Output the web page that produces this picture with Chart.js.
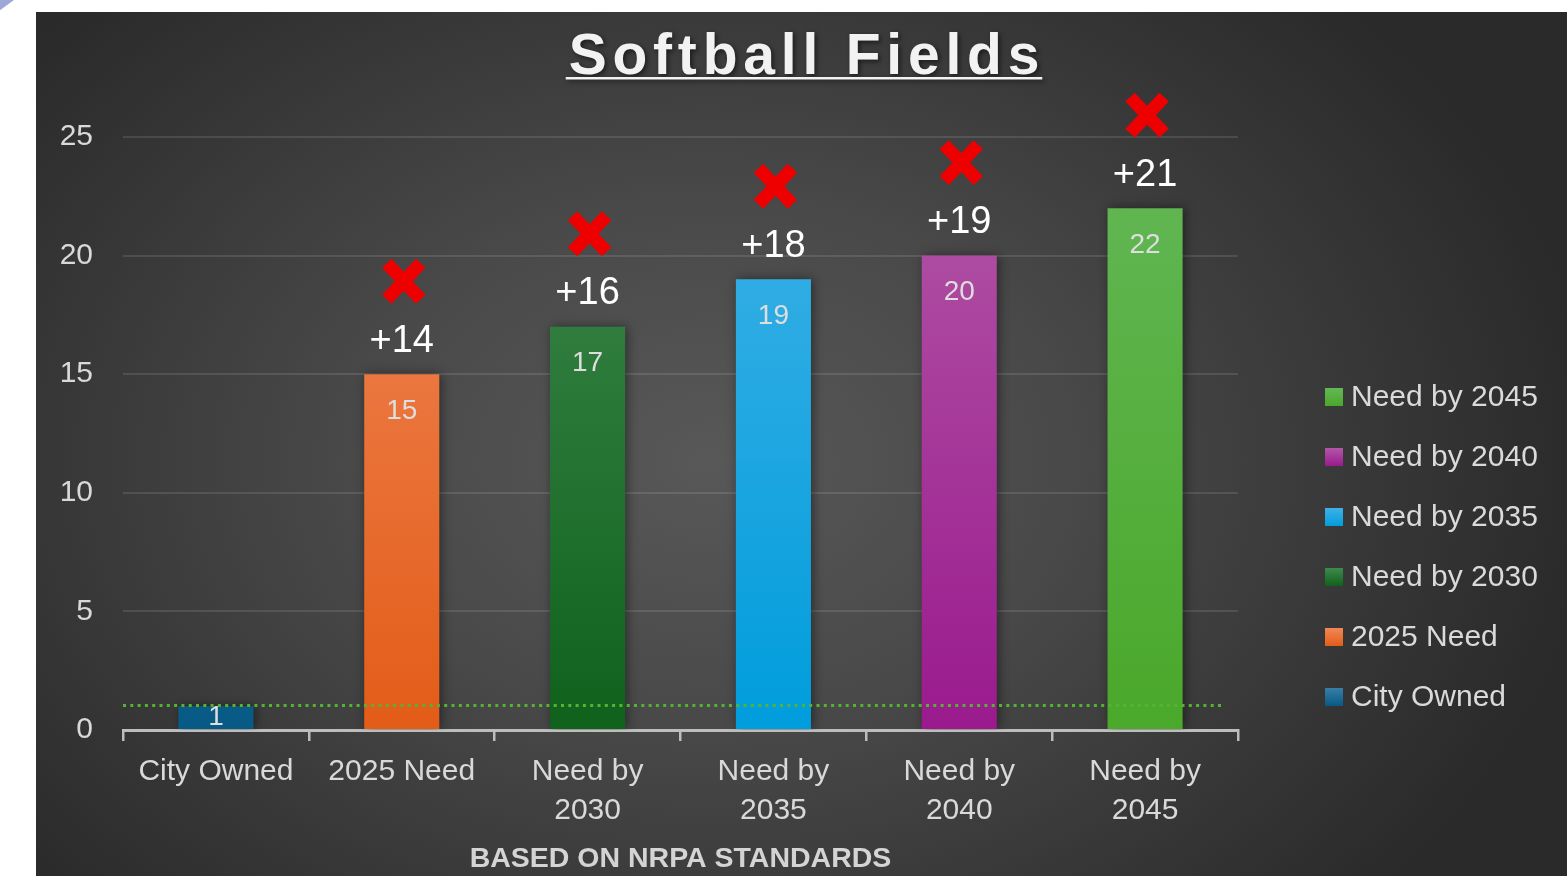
<!DOCTYPE html>
<html>
<head>
<meta charset="utf-8">
<script src="https://cdn.jsdelivr.net/npm/chart.js@4.4.1/dist/chart.umd.min.js"></script>
<style>
  html, body { margin: 0; padding: 0; width: 1567px; height: 887px; background: #ffffff; overflow: hidden; }
  #corner { position: absolute; left: 0; top: 0; width: 14px; height: 12px; background: #9ea8d8; clip-path: polygon(0 0, 100% 0, 0 85%); }
  #panel { position: absolute; left: 36px; top: 12px; width: 1531px; height: 864px;
    background: radial-gradient(ellipse 58% 75% at 44% 52%, #585858 0%, #494949 40%, #343434 80%, #2a2a2a 100%); }
  #wrap { position: absolute; left: 0; top: 0; width: 1567px; height: 887px; }
</style>
</head>
<body>
<div id="corner"></div>
<div id="panel"></div>
<div id="wrap"><canvas id="c" width="1567" height="887"></canvas></div>
<script>
// ---- data ----
const titleText = "Softball Fields";
const axisTitle = "BASED ON NRPA STANDARDS";
const categories = [["City Owned"], ["2025 Need"], ["Need by", "2030"], ["Need by", "2035"], ["Need by", "2040"], ["Need by", "2045"]];
const legendNames = ["City Owned", "2025 Need", "Need by 2030", "Need by 2035", "Need by 2040", "Need by 2045"];
const fieldCounts = [1, 15, 17, 19, 20, 22];
const shortfall = [null, 14, 16, 18, 19, 21];
const cityOwnedLevel = 1;
const yTicks = [0, 5, 10, 15, 20, 25];
const barTopColors = ["#3a7ea6", "#f08858", "#3f8a4e", "#3fb1e6", "#b257a6", "#63b756"];
const barBottomColors = ["#075a85", "#e35c18", "#0f611c", "#009ddc", "#9a1a8e", "#4aa82a"];

const FONT = "'Liberation Sans', Arial, sans-serif";

function barGradient(ctx, i) {
  const chart = ctx.chart;
  const area = chart.chartArea;
  if (!area) return barBottomColors[i];
  const el = ctx.element || (chart.getDatasetMeta(0).data[i]);
  const top = el && isFinite(el.y) ? el.y : area.top;
  const g = chart.ctx.createLinearGradient(0, top, 0, area.bottom);
  g.addColorStop(0, barTopColors[i]);
  g.addColorStop(1, barBottomColors[i]);
  return g;
}

const decorPlugin = {
  id: 'decor',
  beforeDatasetsDraw(chart) {
    const c = chart.ctx;
    c.save();
    c.shadowColor = 'rgba(0,0,0,0.45)';
    c.shadowBlur = 10;
    c.shadowOffsetX = 2;
    c.shadowOffsetY = 0;
  },
  afterDatasetsDraw(chart) {
    const c = chart.ctx;
    c.restore();
    const area = chart.chartArea;
    const ys = chart.scales.y;
    const meta = chart.getDatasetMeta(0);

    // dotted reference line at city-owned level
    const yRef = Math.floor(ys.getPixelForValue(cityOwnedLevel)) - 0.5;
    c.save();
    c.strokeStyle = '#55b232';
    c.lineWidth = 3;
    c.setLineDash([3, 4.3]);
    c.beginPath();
    c.moveTo(area.left, yRef);
    c.lineTo(area.right - 16, yRef);
    c.stroke();
    c.restore();

    // labels
    meta.data.forEach((bar, i) => {
      const x = bar.x, top = bar.y, bottom = bar.base;
      c.save();
      c.textAlign = 'center';
      c.textBaseline = 'middle';
      c.fillStyle = '#dedede';
      c.font = "28px " + FONT;
      const ly = Math.min(top + 37, (top + bottom) / 2);
      c.fillText(String(fieldCounts[i]), x, ly);
      if (shortfall[i] !== null) {
        c.fillStyle = '#ffffff';
        c.font = "38px " + FONT;
        c.fillText('+' + shortfall[i], x, top - 33);
        // red cross
        const cy = top - 93, cx = x + 2;
        c.strokeStyle = '#ee0000';
        c.lineWidth = 13;
        c.lineCap = 'butt';
        c.beginPath();
        c.moveTo(cx - 17, cy - 18); c.lineTo(cx + 17, cy + 18);
        c.moveTo(cx + 17, cy - 18); c.lineTo(cx - 17, cy + 18);
        c.stroke();
      }
      c.restore();
    });
  },
  afterDraw(chart) {
    const c = chart.ctx;
    // title
    c.save();
    c.font = "bold 57px " + FONT;
    c.letterSpacing = '5.8px';
    c.textAlign = 'center';
    c.textBaseline = 'alphabetic';
    c.shadowColor = 'rgba(0,0,0,0.55)';
    c.shadowBlur = 5;
    c.shadowOffsetX = 2;
    c.shadowOffsetY = 2;
    c.fillStyle = '#f2f2f2';
    const tx = 804, ty = 74;
    c.fillText(titleText, tx + 2.9, ty);
    const w = c.measureText(titleText).width;
    c.fillRect(tx - w / 2, ty + 3, w, 2.5);
    c.restore();

    // legend (reverse order)
    c.save();
    c.font = "30px " + FONT;
    c.textBaseline = 'middle';
    c.textAlign = 'left';
    const n = legendNames.length;
    for (let k = 0; k < n; k++) {
      const i = n - 1 - k;
      const yC = 397 + k * 60;
      const g = c.createLinearGradient(0, yC - 9, 0, yC + 9);
      g.addColorStop(0, barTopColors[i]);
      g.addColorStop(1, barBottomColors[i]);
      c.fillStyle = g;
      c.fillRect(1325, yC - 9, 18, 18);
      c.fillStyle = '#dadada';
      c.fillText(legendNames[i], 1351, yC + 1);
    }
    c.restore();
  }
};

new Chart(document.getElementById('c'), {
  type: 'bar',
  data: {
    labels: categories,
    datasets: [{
      data: fieldCounts,
      backgroundColor: (ctx) => barGradient(ctx, ctx.dataIndex),
      borderWidth: 0,
      barPercentage: 0.404,
      categoryPercentage: 1.0
    }]
  },
  options: {
    responsive: false,
    animation: false,
    devicePixelRatio: 1,
    layout: { padding: { left: 40, right: 329, top: 137, bottom: 11 } },
    plugins: { legend: { display: false }, tooltip: { enabled: false }, title: { display: false } },
    scales: {
      x: {
        afterFit: (s) => { s.height = 146; },
        grid: { display: true, offset: true, drawOnChartArea: false, drawTicks: true, tickLength: 11, color: '#bdbdbd', lineWidth: 2.5 },
        border: { display: true, color: '#bdbdbd', width: 3 },
        ticks: { color: '#d9d9d9', font: { family: FONT, size: 30, lineHeight: 1.3 }, padding: 11, maxRotation: 0, autoSkip: false },
        title: { display: true, text: axisTitle, color: '#d4d4d4', font: { family: FONT, size: 28.5, weight: 'bold', lineHeight: 1.2 }, padding: { top: 0, bottom: 0 } }
      },
      y: {
        min: 0, max: 25,
        afterFit: (s) => { s.width = 83; },
        afterBuildTicks: (s) => { s.ticks = yTicks.map(v => ({ value: v })); },
        grid: { color: 'rgba(255,255,255,0.11)', lineWidth: 2, drawTicks: false },
        border: { display: false },
        ticks: { color: '#d9d9d9', font: { family: FONT, size: 30 }, padding: 30 }
      }
    }
  },
  plugins: [decorPlugin]
});
</script>
</body>
</html>
